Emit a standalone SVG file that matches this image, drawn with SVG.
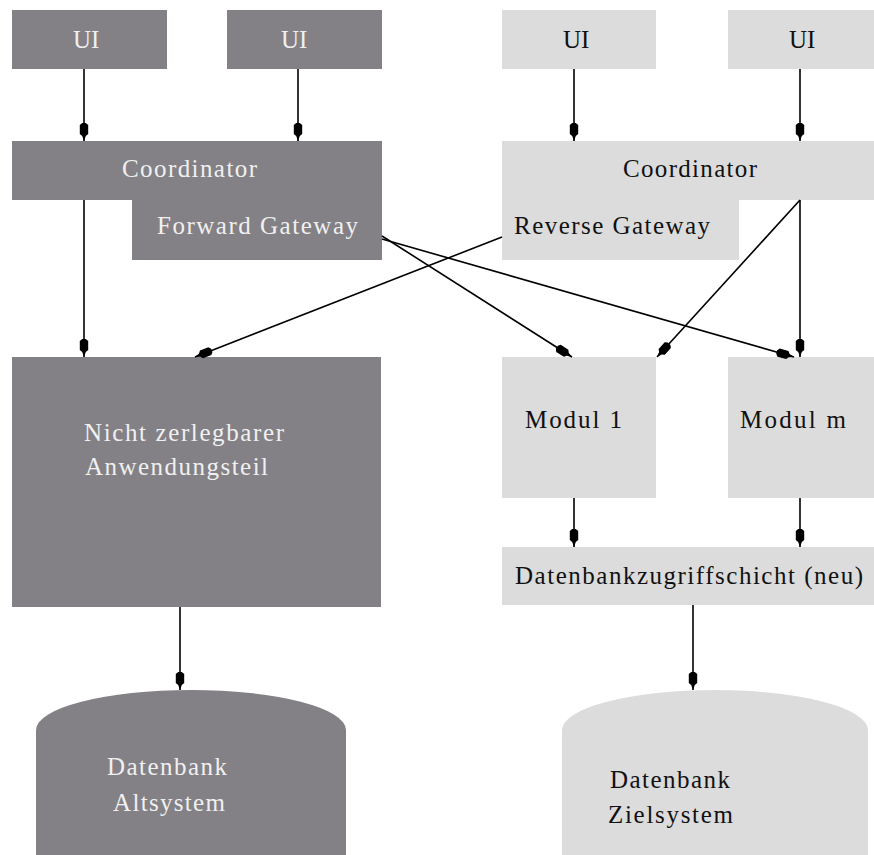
<svg xmlns="http://www.w3.org/2000/svg" width="874" height="855" viewBox="0 0 874 855">
  <style>
    .dark { fill: #838185; }
    .light { fill: #dcdcdc; }
    text { font-family: "Liberation Serif", "DejaVu Serif", serif; font-size: 25px; }
    .on-dark { fill: #f0f0f0; }
    .on-light { fill: #111111; }
    .conn { stroke: #000000; stroke-width: 1.6; fill: none; marker-end: url(#head); }
  </style>
  <defs>
    <!-- small elongated filled arrowhead -->
    <marker id="head" viewBox="-20 -6 21 12" refX="0" refY="0" markerWidth="21" markerHeight="12" markerUnits="userSpaceOnUse" orient="auto">
      <path d="M0,0 L-5,-1.8 L-7,-4.2 L-16,-4.2 L-18,-1.8 L-18,1.8 L-16,4.2 L-7,4.2 L-5,1.8 Z" fill="#000000"/>
    </marker>
  </defs>

  <rect width="874" height="855" fill="#ffffff"/>

  <!-- old system -->
  <g id="ui-old-1">
    <rect class="dark" x="12" y="10" width="155" height="59"/>
    <text class="on-dark" x="73" y="48">UI</text>
  </g>
  <g id="ui-old-2">
    <rect class="dark" x="227" y="10" width="155" height="59"/>
    <text class="on-dark" x="281" y="48">UI</text>
  </g>
  <g id="coordinator-old">
    <path class="dark" d="M12,141 H382 V260 H132 V200 H12 Z"/>
    <text class="on-dark" x="122" y="177" textLength="135">Coordinator</text>
    <text class="on-dark" x="157" y="234" textLength="201">Forward Gateway</text>
  </g>
  <g id="legacy-part">
    <rect class="dark" x="12" y="357" width="369" height="250"/>
    <text class="on-dark" x="84" y="441" textLength="200">Nicht zerlegbarer</text>
    <text class="on-dark" x="85" y="475" textLength="183">Anwendungsteil</text>
  </g>
  <g id="db-old">
    <path class="dark" d="M36,855 V730 A155,40 0 0 1 346,730 V855 Z"/>
    <text class="on-dark" x="107" y="775" textLength="120">Datenbank</text>
    <text class="on-dark" x="113" y="811" textLength="112">Altsystem</text>
  </g>

  <!-- target system -->
  <g id="ui-new-1">
    <rect class="light" x="502" y="10" width="154" height="59"/>
    <text class="on-light" x="563" y="48">UI</text>
  </g>
  <g id="ui-new-2">
    <rect class="light" x="728" y="10" width="146" height="59"/>
    <text class="on-light" x="789" y="48">UI</text>
  </g>
  <g id="coordinator-new">
    <path class="light" d="M502,141 H874 V200 H739 V260 H502 Z"/>
    <text class="on-light" x="623" y="177" textLength="134">Coordinator</text>
    <text class="on-light" x="514" y="234" textLength="196">Reverse Gateway</text>
  </g>
  <g id="module-1">
    <rect class="light" x="502" y="357" width="154" height="141"/>
    <text class="on-light" x="525" y="428" textLength="97">Modul 1</text>
  </g>
  <g id="module-m">
    <rect class="light" x="728" y="357" width="146" height="141"/>
    <text class="on-light" x="740" y="428" textLength="106">Modul m</text>
  </g>
  <g id="db-access-layer">
    <rect class="light" x="502" y="547" width="372" height="58"/>
    <text class="on-light" x="515" y="584" textLength="348">Datenbankzugriffschicht (neu)</text>
  </g>
  <g id="db-new">
    <path class="light" d="M562,855 V730 A153,40 0 0 1 868,730 V855 Z"/>
    <text class="on-light" x="610" y="788" textLength="120">Datenbank</text>
    <text class="on-light" x="608" y="823" textLength="125">Zielsystem</text>
  </g>

  <!-- connectors -->
  <g id="connectors">
    <line class="conn" x1="84" y1="69" x2="84" y2="141"/>
    <line class="conn" x1="298" y1="69" x2="298" y2="141"/>
    <line class="conn" x1="84" y1="200" x2="84" y2="357"/>
    <line class="conn" x1="180" y1="607" x2="180" y2="690"/>

    <line class="conn" x1="574" y1="69" x2="574" y2="141"/>
    <line class="conn" x1="800" y1="69" x2="800" y2="141"/>
    <line class="conn" x1="800" y1="200" x2="800" y2="357"/>
    <line class="conn" x1="800" y1="200" x2="657" y2="357"/>
    <line class="conn" x1="574" y1="498" x2="574" y2="547"/>
    <line class="conn" x1="800" y1="498" x2="800" y2="547"/>
    <line class="conn" x1="693" y1="605" x2="693" y2="690"/>

    <line class="conn" x1="382" y1="236" x2="572" y2="357"/>
    <line class="conn" x1="382" y1="239" x2="794" y2="357"/>
    <line class="conn" x1="502" y1="237" x2="195" y2="357"/>
  </g>
</svg>
